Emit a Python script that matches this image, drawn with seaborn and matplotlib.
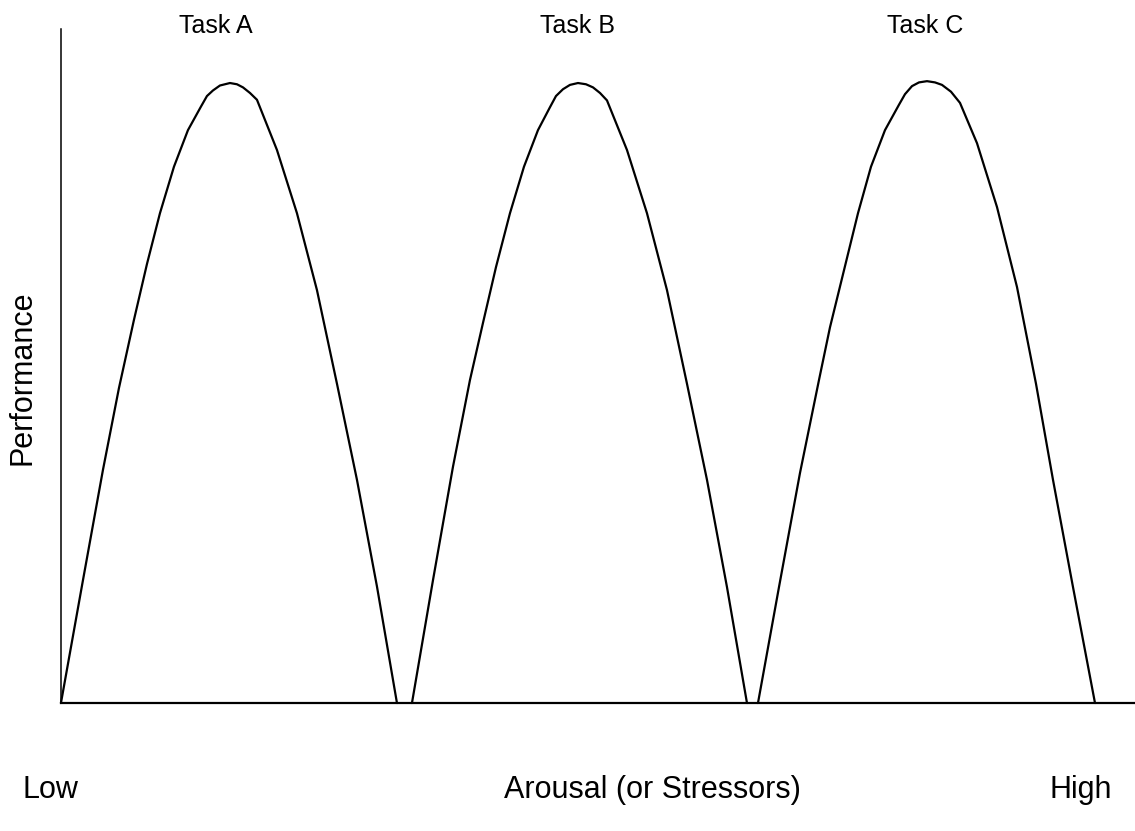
import pandas as pd
import seaborn as sns
import matplotlib.pyplot as plt

# values (arousal on x, performance on y)
task_names = ['Task A', 'Task B', 'Task C']

arousal_a = [0.0, 2.2, 4.2, 5.8, 7.3, 8.6, 9.9, 11.3, 12.7, 14.0, 14.6, 15.2, 15.9,
             16.9, 17.6, 18.2, 18.9, 19.6, 21.6, 23.6, 25.6, 27.6, 29.6, 31.6, 33.6]
perf_a = [0, 19.8, 37.6, 50.8, 61.8, 70.8, 79.0, 86.5, 92.4, 96.2, 97.9, 98.8, 99.6,
          100, 99.8, 99.3, 98.4, 97.3, 89.2, 79.0, 66.6, 51.5, 36.0, 18.8, 0]

arousal_b = [35.1, 37.2, 39.2, 40.9, 42.2, 43.5, 44.9, 46.3, 47.7, 48.9, 49.5, 50.2, 50.9,
             51.7, 52.5, 53.2, 53.9, 54.6, 56.6, 58.6, 60.6, 62.6, 64.6, 66.6, 68.6]
perf_b = [0, 19.8, 38.1, 52.1, 61.3, 70.3, 79.0, 86.5, 92.4, 96.1, 97.9, 99.0, 99.7,
          100, 99.8, 99.3, 98.4, 97.2, 89.2, 79.0, 66.6, 51.5, 36.0, 18.7, 0]

arousal_c = [69.7, 71.8, 73.9, 75.8, 76.9, 78.3, 79.7, 81.0, 82.4, 83.8, 84.4, 85.1, 85.8,
             86.6, 87.4, 88.1, 89.0, 89.9, 91.6, 93.6, 95.6, 97.5, 99.2, 101.2, 103.4]
perf_c = [0, 18.7, 37.1, 52.1, 60.6, 69.8, 79.0, 86.5, 92.4, 96.5, 98.2, 99.5, 100.1,
          100.3, 100.1, 99.7, 98.6, 96.8, 90.3, 80.0, 67.1, 51.5, 36.0, 18.7, 0]

# label positions (x of each task label)
label_x = [15.5, 51.7, 86.4]


def build_frame():
    """Stack the three curves into one long table."""
    parts = []
    for name, xs, ys in zip(task_names,
                            [arousal_a, arousal_b, arousal_c],
                            [perf_a, perf_b, perf_c]):
        parts.append(pd.DataFrame({'task': name, 'arousal': xs, 'performance': ys}))
    return pd.concat(parts, ignore_index=True)


df = build_frame()

sns.set_style('white')
plt.rcParams['font.family'] = ['Liberation Sans', 'DejaVu Sans']
plt.rcParams['text.color'] = 'black'

fig = plt.figure(figsize=(11.35, 8.31), dpi=100)
ax = fig.add_axes([0.0537, 0.154, 0.9463, 0.811])

sns.lineplot(data=df, x='arousal', y='performance', units='task', estimator=None,
             color='black', lw=1.6, sort=False, ax=ax, clip_on=False)

ax.set_xlim(0, 107.4)
ax.set_ylim(0, 108.7)
ax.set_xticks([])
ax.set_yticks([])
ax.set_xlabel('')
ax.set_ylabel('')
for side in ['top', 'right']:
    ax.spines[side].set_visible(False)
ax.spines['bottom'].set_linewidth(1.6)
ax.spines['left'].set_linewidth(1.1)
ax.spines['bottom'].set_color('black')
ax.spines['left'].set_color('black')

for name, x in zip(task_names, label_x):
    ax.text(x, 109.2, name, ha='center', va='center', fontsize=18, color='black',
            clip_on=False)

fig.text(0.0194, 0.545, 'Performance', rotation=90, ha='center', va='center',
         fontsize=22, color='black')
fig.text(0.0194, 0.049, 'Low', ha='left', va='center', fontsize=22, color='black')
fig.text(0.5744, 0.049, 'Arousal (or Stressors)', ha='center', va='center',
         fontsize=22, color='black')
fig.text(0.98, 0.049, 'High', ha='right', va='center', fontsize=22, color='black')

fig.savefig('out.png', dpi=100)
